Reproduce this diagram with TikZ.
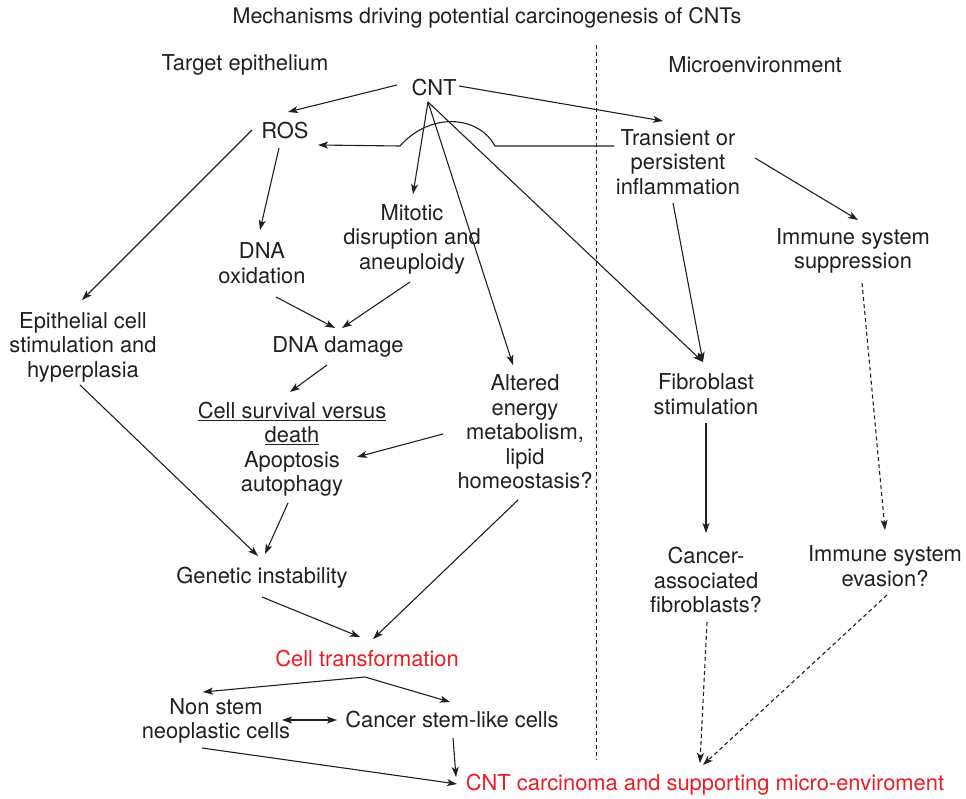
\documentclass[tikz,border=0pt]{standalone}
\usepackage{fontspec}
\setmainfont{TeX Gyre Heros}
\usetikzlibrary{arrows.meta}
\definecolor{ink}{HTML}{231F20}
\definecolor{hot}{HTML}{ED1C24}
\begin{document}
\begin{tikzpicture}[x=1pt,y=-1pt,
  lbl/.style={align=center, inner sep=0pt, font=\fontsize{21.9}{24.5}\selectfont, text=ink},
  redlbl/.style={lbl, text=hot},
  link/.style={draw=ink, line width=1.1pt, -{Stealth[length=10pt,width=7pt,inset=2.5pt]}},
  dlink/.style={link, dash pattern=on 4pt off 3pt},
  twolink/.style={draw=ink, line width=1.1pt, {Stealth[length=10pt,width=7pt,inset=2.5pt]}-{Stealth[length=10pt,width=7pt,inset=2.5pt]}},
]
\useasboundingbox (0,0) rectangle (966,799);

% headings
\node[lbl, font=\fontsize{21.5}{24.5}\selectfont] (title) at (487,18) {Mechanisms driving potential carcinogenesis of CNTs};
\node[lbl] (tepi) at (245,65) {Target epithelium};
\node[lbl] (micro) at (755,65) {Microenvironment};

% divider between the two compartments
\coordinate (divtop) at (596,45);
\coordinate (divbot) at (596,760);
\draw[ink, line width=1pt, dash pattern=on 4pt off 3pt] (divtop) -- (divbot);

% nodes
\node[lbl] (cnt) at (434,88) {CNT};
\node[lbl] (ros) at (285,131) {ROS};
\node[lbl] (infl) at (678,162) {Transient or\\persistent\\inflammation};
\node[lbl] (mit) at (412,239) {Mitotic\\disruption and\\aneuploidy};
\node[lbl] (dnaox) at (262,263) {DNA\\oxidation};
\node[lbl] (immsup) at (853,251) {Immune system\\suppression};
\node[lbl] (epi) at (83,347) {Epithelial cell\\stimulation and\\hyperplasia};
\node[lbl] (dnad) at (338,347) {DNA damage};
\node[lbl] (alt) at (525,432) {Altered\\energy\\metabolism,\\lipid\\homeostasis?};
\node[lbl] (fib) at (706,394) {Fibroblast\\stimulation};
\node[lbl] (surv) at (292,449) {\underline{Cell survival versus}\\\underline{death}\\Apoptosis\\autophagy};
\node[lbl] (gen) at (262,578) {Genetic instability};
\node[lbl] (caf) at (706,580) {Cancer-\\associated\\fibroblasts?};
\node[lbl] (immev) at (885,566) {Immune system\\evasion?};
\node[redlbl] (trans) at (367,659) {Cell transformation};
\node[lbl] (nonstem) at (216,721) {Non stem\\neoplastic cells};
\node[lbl] (csc) at (452,720) {Cancer stem-like cells};
\node[redlbl] (carc) at (705,785) {CNT carcinoma and supporting micro-enviroment};

% connectors
\draw[link] ([shift={(-37,-3)}]cnt.center) -- ([shift={(3,-19)}]ros.center);
\draw[link] ([shift={(25,-2)}]cnt.center) -- ([shift={(-15,-41)}]infl.center);
\draw[link] ([shift={(-64,-16)}]infl.center) -- ([shift={(-183,-16)}]infl.center)
  .. controls ([shift={(-200,-47)}]infl.center) and ([shift={(-248,-50)}]infl.center) .. ([shift={(-278,-16)}]infl.center)
  -- ([shift={(33,14)}]ros.center);
\draw[link] ([shift={(-6,14)}]cnt.center) -- ([shift={(1,-45)}]mit.center);
\draw[link] ([shift={(-6,14)}]cnt.center) -- ([shift={(-12,-67)}]alt.center);
\draw[link] ([shift={(-6,14)}]cnt.center) -- ([shift={(-3,-32)}]fib.center);
\draw[link] ([shift={(-6,17)}]ros.center) -- ([shift={(-2,-33)}]dnaox.center);
\draw[link] ([shift={(-33,-1)}]ros.center) -- ([shift={(-1,-47)}]epi.center);
\draw[link] ([shift={(14,34)}]dnaox.center) -- ([shift={(-3,-19)}]dnad.center);
\draw[link] ([shift={(-2,43)}]mit.center) -- ([shift={(4,-19)}]dnad.center);
\draw[link] ([shift={(-11,18)}]dnad.center) -- ([shift={(-2,-57)}]surv.center);
\draw[link] ([shift={(-82,2)}]alt.center) -- ([shift={(65,8)}]surv.center);
\draw[link] ([shift={(-5,41)}]infl.center) -- ([shift={(-3,-32)}]fib.center);
\draw[link] ([shift={(77,-4)}]infl.center) -- ([shift={(5,-31)}]immsup.center);
\draw[dlink] ([shift={(9,32)}]immsup.center) -- ([shift={(0,-36)}]immev.center);
\draw[link] ([shift={(0,29)}]fib.center) -- ([shift={(0,-47)}]caf.center);
\draw[link] ([shift={(-3,38)}]epi.center) -- ([shift={(-4,-22)}]gen.center);
\draw[link] ([shift={(-4,54)}]surv.center) -- ([shift={(3,-24)}]gen.center);
\draw[link] ([shift={(-7,68)}]alt.center) -- ([shift={(6,-20)}]trans.center);
\draw[link] ([shift={(0,19)}]gen.center) -- ([shift={(-7,-22)}]trans.center);
\draw[link] ([shift={(-2,18)}]trans.center) -- ([shift={(-13,-29)}]nonstem.center);
\draw[link] ([shift={(-2,18)}]trans.center) -- ([shift={(-2,-18)}]csc.center);
\draw[twolink] ([shift={(66,-1)}]nonstem.center) -- ([shift={(-115,0)}]csc.center);
\draw[link] ([shift={(-14,27)}]nonstem.center) -- ([shift={(-248,-1)}]carc.center);
\draw[link] ([shift={(1,18)}]csc.center) -- ([shift={(-249,-8)}]carc.center);
\draw[dlink] ([shift={(1,42)}]caf.center) -- ([shift={(-5,-22)}]carc.center);
\draw[dlink] ([shift={(2,29)}]immev.center) -- ([shift={(-2,-20)}]carc.center);
\end{tikzpicture}
\end{document}
